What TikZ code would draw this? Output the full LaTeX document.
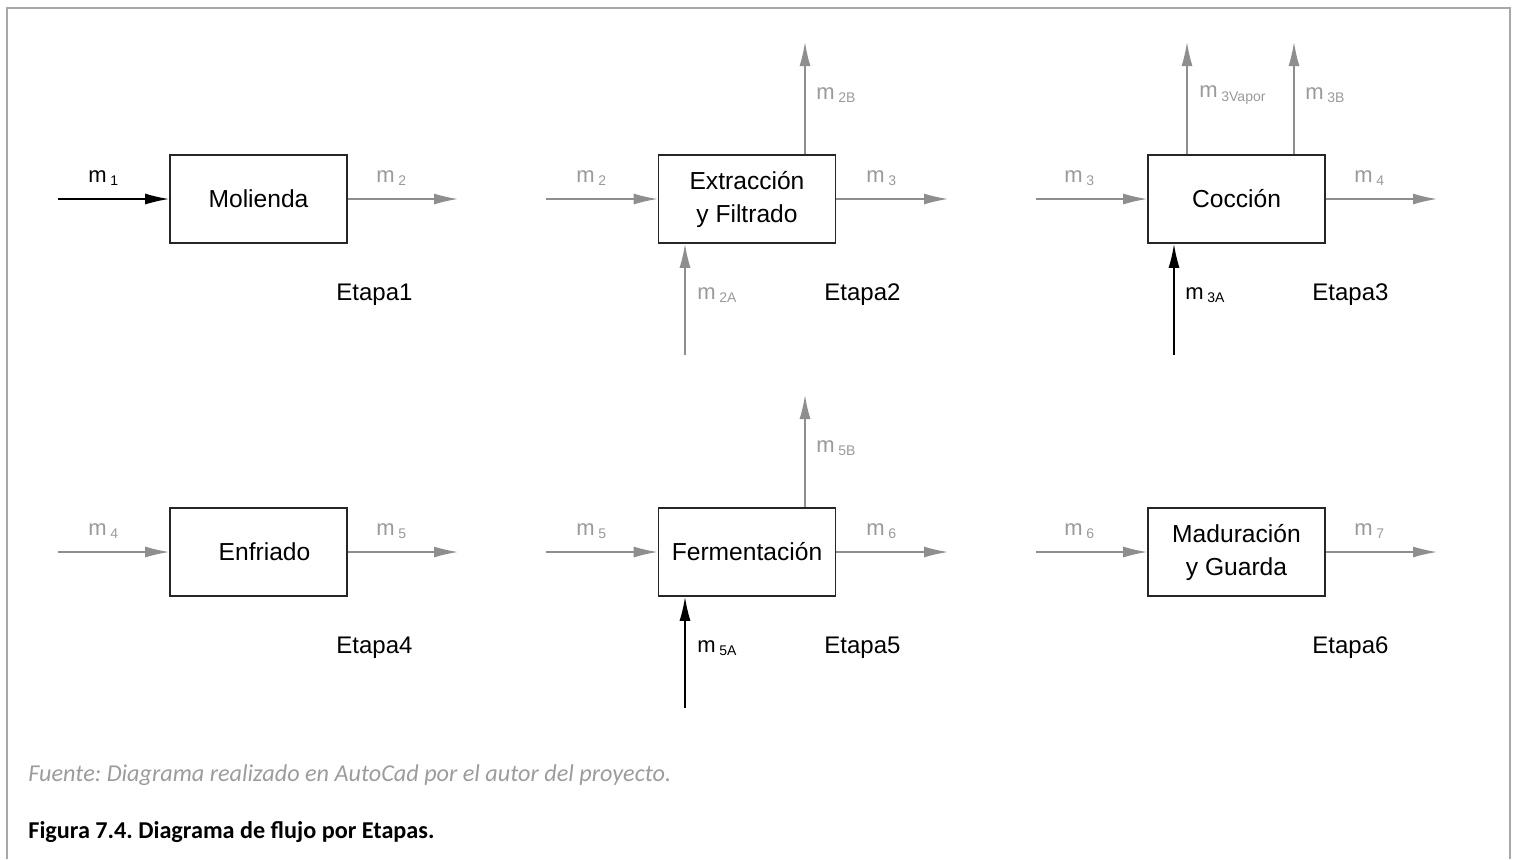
\documentclass[tikz,border=0pt]{standalone}
\usepackage{fontspec}
\setmainfont{Liberation Sans}
\newfontfamily\capfont{Carlito}
\usetikzlibrary{arrows.meta}
\definecolor{flowgray}{HTML}{8E8E8E}
\definecolor{lblgray}{HTML}{9A9A9A}
\definecolor{framegray}{HTML}{A8A8A8}
\definecolor{capgray}{HTML}{9C9C9C}
\newcommand{\msub}[1]{m\,\raisebox{-0.3ex}{\fontsize{7}{8}\selectfont #1}}
\frenchspacing
\begin{document}
\begin{tikzpicture}[x=0.5pt,y=-0.5pt,
  stagebox/.style={draw=black!85, line width=0.8pt, minimum width=88.5pt, minimum height=44pt, inner sep=0pt, align=center, font=\fontsize{12.3}{16.5}\selectfont},
  gflow/.style={draw=flowgray, line width=0.7pt, -{Latex[length=12pt,width=5.5pt,fill=flowgray]}},
  bflow/.style={draw=black, line width=0.8pt, -{Latex[length=12pt,width=5.5pt,fill=black]}},
  glbl/.style={anchor=west, inner sep=0pt, text=lblgray, font=\fontsize{11}{13}\selectfont},
  blbl/.style={anchor=west, inner sep=0pt, text=black, font=\fontsize{11}{13}\selectfont},
  etapa/.style={anchor=west, inner sep=0pt, font=\fontsize{12}{14}\selectfont}]
\useasboundingbox (0,0) rectangle (1516,859);
\draw[framegray, line width=1.3pt] (7,859) -- (7,8) -- (1510,8) -- (1510,859);

% boxes
\node[stagebox] (b1) at (258.5,199) {Molienda};
\node[stagebox] (b2) at (747,199) {Extracción\\y Filtrado};
\node[stagebox] (b3) at (1236.5,199) {\raisebox{1pt}{Cocción}};
\node[stagebox] (b4) at (258.5,552) {\hspace{6pt}Enfriado};
\node[stagebox] (b5) at (747,552) {Fermentación};
\node[stagebox] (b6) at (1236.5,552) {Maduración\\y Guarda};

% free ends
\coordinate (i1) at (58,199);   \coordinate (o1) at (458,199);
\coordinate (i2) at (546,199);  \coordinate (o2) at (948,199);
\coordinate (i3) at (1036,199); \coordinate (o3) at (1437,199);
\coordinate (i4) at (58,552);   \coordinate (o4) at (458,552);
\coordinate (i5) at (546,552);  \coordinate (o5) at (948,552);
\coordinate (i6) at (1036,552); \coordinate (o6) at (1437,552);
\coordinate (u2) at (805,42);   \coordinate (d2) at (685,355);
\coordinate (u3a) at (1187,42); \coordinate (u3b) at (1294,42);
\coordinate (d3) at (1174,355);
\coordinate (u5) at (805,395);  \coordinate (d5) at (685,708);

% horizontal flows
\draw[bflow] (i1) -- (b1.west);
\draw[gflow] (b1.east) -- (o1);
\draw[gflow] (i2) -- (b2.west);
\draw[gflow] (b2.east) -- (o2);
\draw[gflow] (i3) -- (b3.west);
\draw[gflow] (b3.east) -- (o3);
\draw[gflow] (i4) -- (b4.west);
\draw[gflow] (b4.east) -- (o4);
\draw[gflow] (i5) -- (b5.west);
\draw[gflow] (b5.east) -- (o5);
\draw[gflow] (i6) -- (b6.west);
\draw[gflow] (b6.east) -- (o6);

% vertical flows
\draw[gflow] (b2.north -| u2) -- (u2);
\draw[gflow] (d2) -- (d2 |- b2.south);
\draw[gflow] (b3.north -| u3a) -- (u3a);
\draw[gflow] (b3.north -| u3b) -- (u3b);
\draw[bflow] (d3) -- (d3 |- b3.south);
\draw[gflow] (b5.north -| u5) -- (u5);
\draw[bflow] (d5) -- (d5 |- b5.south);

% labels
\node[blbl] (l1) at (88,178) {\msub{1}};
\node[glbl] (l2) at (376,178) {\msub{2}};
\node[glbl] (l3) at (576,178) {\msub{2}};
\node[glbl] (l4) at (866,178) {\msub{3}};
\node[glbl] (l5) at (1064,178) {\msub{3}};
\node[glbl] (l6) at (1354,178) {\msub{4}};
\node[glbl] (l7) at (88,531) {\msub{4}};
\node[glbl] (l8) at (376,531) {\msub{5}};
\node[glbl] (l9) at (576,531) {\msub{5}};
\node[glbl] (l10) at (866,531) {\msub{6}};
\node[glbl] (l11) at (1064,531) {\msub{6}};
\node[glbl] (l12) at (1354,531) {\msub{7}};
\node[glbl] (l13) at (816,95) {\msub{2B}};
\node[glbl] (l14) at (697,295) {\msub{2A}};
\node[glbl] (l15) at (1199,95) {\msub{3Vapor}};
\node[glbl] (l16) at (1305,95) {\msub{3B}};
\node[blbl] (l17) at (1185,295) {\msub{3A}};
\node[glbl] (l18) at (816,448) {\msub{5B}};
\node[blbl] (l19) at (697,648) {\msub{5A}};

\node[etapa] (e1) at (336,295) {Etapa1};
\node[etapa] (e2) at (824,295) {Etapa2};
\node[etapa] (e3) at (1312,295) {Etapa3};
\node[etapa] (e4) at (336,648) {Etapa4};
\node[etapa] (e5) at (824,648) {Etapa5};
\node[etapa] (e6) at (1312,648) {Etapa6};

% captions
\node[anchor=base west, inner sep=0pt, text=capgray, font=\capfont\itshape\fontsize{12.1}{14}\selectfont] (src) at (28,781) {Fuente: Diagrama realizado en AutoCad por el autor del proyecto.};
\node[anchor=base west, inner sep=0pt, font=\capfont\bfseries\fontsize{12.1}{14}\selectfont] (cap) at (28,838) {Figura 7.4. Diagrama de flujo por Etapas.};
\end{tikzpicture}
\end{document}
